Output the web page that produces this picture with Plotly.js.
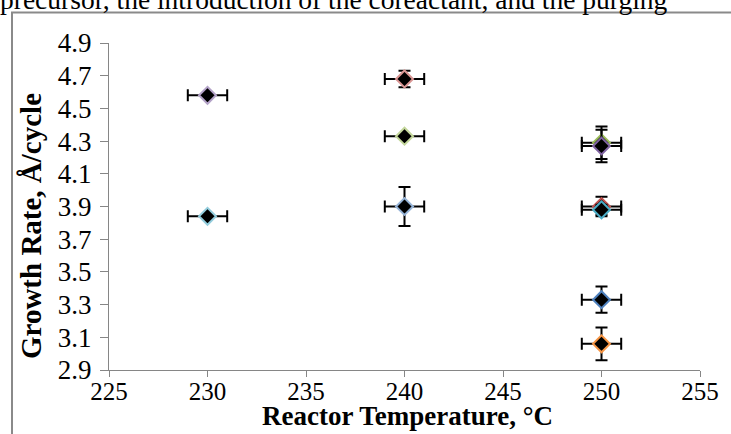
<!DOCTYPE html>
<html>
<head>
<meta charset="utf-8">
<script src="https://cdn.plot.ly/plotly-3.0.1.min.js"></script>
<style>
html,body{margin:0;padding:0;background:#fff;}
#chart{width:731px;height:434px;}
</style>
</head>
<body>
<div id="chart"></div>
<script>
// ---- data ----
var pointNames = ['230 A', '230 B', '240 A', '240 B', '240 C', '250 A', '250 B', '250 C', '250 D', '250 E', '250 F'];
var temperatures = [230, 230, 240, 240, 240, 250, 250, 250, 250, 250, 250];
var temperatureErr = [1, 1, 1, 1, 1, 1, 1, 1, 1, 1, 1];
var growthRates = [4.58, 3.84, 4.68, 4.33, 3.90, 4.29, 4.27, 3.90, 3.88, 3.33, 3.06];
var growthRateErr = [0, 0, 0.05, 0.01, 0.12, 0.10, 0.10, 0.06, 0.03, 0.08, 0.10];
var xTicks = [225, 230, 235, 240, 245, 250, 255];
var yTicks = [2.9, 3.1, 3.3, 3.5, 3.7, 3.9, 4.1, 4.3, 4.5, 4.7, 4.9];
var xTitle = 'Reactor Temperature, °C';
var yTitle = 'Growth Rate, Å/cycle';
var headerText = 'precursor, the introduction of the coreactant, and the purging';

// ---- styles ----
var outlineColors = ['#B3A2C7', '#93CDDD', '#D99694', '#C3D69B', '#95B3D7',
                     '#9BBB59', '#8064A2', '#C0504D', '#4BACC6', '#4F81BD', '#F79646'];

var traces = temperatures.map(function (t, i) {
  return {
    type: 'scatter',
    mode: 'markers',
    name: pointNames[i],
    x: [t],
    y: [growthRates[i]],
    marker: {symbol: 'diamond', size: 13, color: '#000000',
             line: {color: outlineColors[i], width: 2}},
    error_x: {type: 'data', array: [temperatureErr[i]], visible: true,
              color: '#000000', thickness: 2, width: 6},
    error_y: {type: 'data', array: [growthRateErr[i]], visible: growthRateErr[i] > 0,
              color: '#000000', thickness: 2, width: 6},
    showlegend: false,
    cliponaxis: false
  };
});

var serif = 'Liberation Serif, Times New Roman, serif';
var L = 109, R = 31, T = 43, B = 64, W = 731, H = 434;
var pw = W - L - R, ph = H - T - B;
function px2x(p) { return (p - L) / pw; }
function px2y(p) { return 1 - (p - T) / ph; }

var layout = {
  width: W, height: H,
  margin: {l: L, r: R, t: T, b: B, pad: 0},
  paper_bgcolor: '#ffffff', plot_bgcolor: '#ffffff',
  font: {family: serif, size: 25, color: '#000000'},
  showlegend: false,
  xaxis: {
    range: [225, 255], tickvals: xTicks, ticktext: xTicks.map(String),
    showgrid: false, zeroline: false,
    showline: true, linecolor: '#868686', linewidth: 1,
    ticks: 'outside', ticklen: 6, tickcolor: '#868686', tickwidth: 1,
    ticklabelstandoff: -7,
    tickfont: {family: serif, size: 25, color: '#000000'},
    automargin: false, fixedrange: true
  },
  yaxis: {
    range: [2.9, 4.9], tickvals: yTicks, ticktext: yTicks.map(function (v) { return v.toFixed(1); }),
    showgrid: false, zeroline: false,
    showline: true, linecolor: '#868686', linewidth: 1,
    ticks: 'outside', ticklen: 8, tickcolor: '#868686', tickwidth: 1,
    ticklabelstandoff: 3,
    tickfont: {family: serif, size: 27, color: '#000000'},
    automargin: false, fixedrange: true
  },
  shapes: [{
    type: 'rect', xref: 'paper', yref: 'paper',
    x0: px2x(12), x1: px2x(1100), y0: px2y(900), y1: px2y(12.5),
    line: {color: '#8a8a8a', width: 2}, fillcolor: 'rgba(0,0,0,0)', layer: 'below'
  }],
  annotations: [{
    xref: 'paper', yref: 'paper', x: px2x(-1), y: px2y(-1),
    xanchor: 'left', yanchor: 'middle', showarrow: false,
    text: headerText, borderpad: 0,
    font: {family: serif, size: 27.5, color: '#000000'}
  }, {
    xref: 'paper', yref: 'paper', x: px2x(407), y: px2y(416),
    xanchor: 'center', yanchor: 'middle', showarrow: false,
    text: '<b>' + xTitle + '</b>', borderpad: 0,
    font: {family: serif, size: 27, color: '#000000'}
  }, {
    xref: 'paper', yref: 'paper', x: px2x(31), y: px2y(226),
    xanchor: 'center', yanchor: 'middle', showarrow: false, textangle: -90,
    text: '<b>' + yTitle + '</b>', borderpad: 0,
    font: {family: serif, size: 29, color: '#000000'}
  }]
};

Plotly.newPlot('chart', traces, layout, {staticPlot: true, displayModeBar: false});
</script>
</body>
</html>
